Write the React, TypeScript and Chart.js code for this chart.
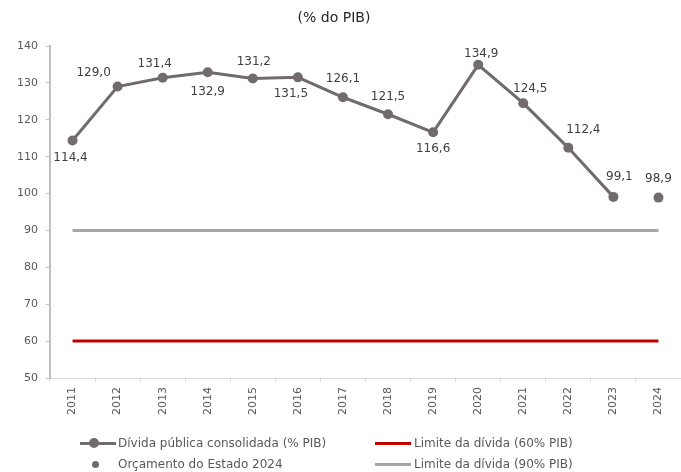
import React, { useEffect, useRef } from "react";
import { Chart, registerables } from "chart.js";

Chart.register(...registerables);

const years = ["2011","2012","2013","2014","2015","2016","2017","2018","2019","2020","2021","2022","2023","2024"];
const divida = [114.4, 129.0, 131.4, 132.9, 131.2, 131.5, 126.1, 121.5, 116.6, 134.9, 124.5, 112.4, 99.1, null];
const orcamento = [null, null, null, null, null, null, null, null, null, null, null, null, null, 98.9];
const limite60 = [60, 60, 60, 60, 60, 60, 60, 60, 60, 60, 60, 60, 60, 60];
const limite90 = [90, 90, 90, 90, 90, 90, 90, 90, 90, 90, 90, 90, 90, 90];
const yTicks = [50, 60, 70, 80, 90, 100, 110, 120, 130, 140];

const seriesNames = [
  "Dívida pública consolidada (% PIB)",
  "Orçamento do Estado 2024",
  "Limite da dívida (60% PIB)",
  "Limite da dívida (90% PIB)",
];
const titleText = "(% do PIB)";

// label placement offsets (dx, dy) relative to the point, per category
const labelOffsets: [number, number][] = [
  [-2, 17], [-24, -14], [-8, -14], [0, 20], [1, -17], [-7, 17], [0, -18],
  [0, -17], [0, 17], [3, -11], [7, -14], [15, -18], [6, -20], [0, -19],
];

const FONT = "'DejaVu Sans', Verdana, sans-serif";
const GREY = "#716b6b";

const fmt = (v: number) => v.toFixed(1).replace(".", ",");

const labelPlugin = {
  id: "pointLabels",
  afterDatasetsDraw(chart: any) {
    const ctx = chart.ctx;
    ctx.save();
    ctx.font = `12px ${FONT}`;
    ctx.fillStyle = "#404040";
    ctx.textAlign = "center";
    ctx.textBaseline = "middle";
    [0, 1].forEach((di) => {
      const meta = chart.getDatasetMeta(di);
      const data = chart.data.datasets[di].data;
      meta.data.forEach((pt: any, i: number) => {
        const v = data[i];
        if (v === null || v === undefined) return;
        const [dx, dy] = labelOffsets[i];
        ctx.fillText(fmt(v), pt.x + dx, pt.y + dy);
      });
    });
    ctx.restore();
  },
};

export default function App() {
  const ref = useRef<HTMLCanvasElement | null>(null);
  useEffect(() => {
    if (!ref.current) return;
    const chart = new Chart(ref.current, {
      type: "line",
      data: {
        labels: years,
        datasets: [
          {
            label: seriesNames[0],
            data: divida,
            borderColor: GREY,
            backgroundColor: GREY,
            borderWidth: 3,
            pointRadius: 5,
            pointBorderWidth: 0,
            pointBackgroundColor: GREY,
            spanGaps: false,
          },
          {
            label: seriesNames[1],
            data: orcamento,
            borderColor: GREY,
            backgroundColor: GREY,
            showLine: false,
            pointRadius: 5,
            pointBorderWidth: 0,
            pointBackgroundColor: GREY,
          },
          {
            label: seriesNames[2],
            data: limite60,
            borderColor: "#c00000",
            borderWidth: 3,
            pointRadius: 0,
          },
          {
            label: seriesNames[3],
            data: limite90,
            borderColor: "#a6a6a6",
            borderWidth: 3,
            pointRadius: 0,
          },
        ] as any,
      },
      options: {
        animation: false,
        responsive: false,
        devicePixelRatio: 1,
        layout: { padding: { top: 46, right: 2, left: 0, bottom: 0 } },
        plugins: {
          legend: { display: false },
          title: { display: false },
          tooltip: { enabled: false },
        },
        scales: {
          x: {
            type: "category",
            offset: true,
            grid: {
              display: true,
              offset: true,
              drawOnChartArea: false,
              drawTicks: true,
              tickLength: 4,
              color: "#d9d9d9",
            },
            border: { color: "#d9d9d9", width: 1 },
            ticks: {
              minRotation: 90,
              maxRotation: 90,
              autoSkip: false,
              padding: 5,
              color: "#595959",
              font: { family: FONT, size: 11 },
            },
            afterFit: (scale: any) => {
              scale.height = 94;
            },
          },
          y: {
            min: 50,
            max: 140,
            afterBuildTicks: (scale: any) => {
              scale.ticks = yTicks.map((v) => ({ value: v }));
            },
            grid: {
              display: true,
              drawOnChartArea: false,
              drawTicks: true,
              tickLength: 4,
              color: "#bfbfbf",
            },
            border: { color: "#bfbfbf", width: 2 },
            ticks: {
              padding: 8,
              color: "#595959",
              font: { family: FONT, size: 11 },
            },
            afterFit: (scale: any) => {
              scale.width = 50;
            },
          },
        },
      },
      plugins: [labelPlugin],
    } as any);
    return () => chart.destroy();
  }, []);

  const textStyle: React.CSSProperties = {
    position: "absolute",
    fontFamily: FONT,
    fontSize: 12,
    color: "#595959",
    height: 16,
    lineHeight: "16px",
    whiteSpace: "nowrap",
  };
  const line = (x: number, y: number, w: number, color: string): React.CSSProperties => ({
    position: "absolute",
    left: x,
    top: y - 1.5,
    width: w,
    height: 3,
    background: color,
  });
  const dot = (cx: number, cy: number, r: number): React.CSSProperties => ({
    position: "absolute",
    left: cx - r,
    top: cy - r,
    width: 2 * r,
    height: 2 * r,
    borderRadius: "50%",
    background: GREY,
  });

  return (
    <div style={{ position: "fixed", left: 0, top: 0, width: 681, height: 472, overflow: "hidden", background: "#fff" }}>
      <canvas ref={ref} width={686} height={472} style={{ position: "absolute", left: 0, top: 0, width: 686, height: 472 }} />
      <div style={{ position: "absolute", left: 234, width: 200, top: 8, height: 18, lineHeight: "18px", textAlign: "center", fontFamily: FONT, fontSize: 14, color: "#262626" }}>
        {titleText}
      </div>
      <div style={line(80, 443, 36, GREY)} />
      <div style={dot(94, 443, 5)} />
      <div style={{ ...textStyle, left: 118, top: 435 }}>{seriesNames[0]}</div>
      <div style={dot(95, 464, 3.5)} />
      <div style={{ ...textStyle, left: 118, top: 456 }}>{seriesNames[1]}</div>
      <div style={line(375, 443, 36, "#c00000")} />
      <div style={{ ...textStyle, left: 414, top: 435 }}>{seriesNames[2]}</div>
      <div style={line(375, 464, 36, "#a6a6a6")} />
      <div style={{ ...textStyle, left: 414, top: 456 }}>{seriesNames[3]}</div>
    </div>
  );
}
